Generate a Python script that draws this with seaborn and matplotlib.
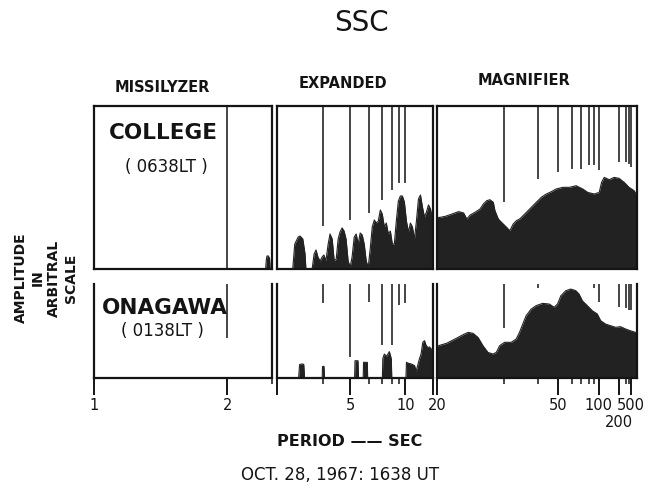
import numpy as np
import pandas as pd
import matplotlib
matplotlib.use("Agg")
import matplotlib.pyplot as plt
from matplotlib.ticker import FixedLocator, FixedFormatter, NullFormatter
import seaborn as sns

# ---------------------------------------------------------------------------
# Period bands (seconds) covered by the three analysers
# ---------------------------------------------------------------------------
bands = ["MISSILYZER", "EXPANDED", "MAGNIFIER"]
band_limits = [(1, 3), (3, 20), (20, 2000)]

major_ticks = [[1, 2], [3, 5, 10, 20], [20, 50, 100, 200, 500]]
major_labels = [["1", "2"], ["", "5", "10", ""], ["20", "50", "100", "", "500"]]
minor_ticks = [[3], [4, 6, 7, 8, 9], [30, 40, 60, 70, 80, 90, 300, 400]]
# period label set on a second line beneath the magnifier scale
low_label_period = 200
low_label_text = "200"

stations = ["COLLEGE", "ONAGAWA"]
local_times = ["( 0638LT )", "( 0138LT )"]

# ---------------------------------------------------------------------------
# Spectral envelopes: period (s) vs amplitude (arbitrary units)
# ---------------------------------------------------------------------------
college_missilyzer_period = [2.80, 2.82, 2.84, 2.88, 2.92, 2.94]
college_missilyzer_amp = [0, 5.5, 8.0, 8.0, 6.5, 0]

college_expanded_period = [
    3.29, 3.33, 3.40, 3.44, 3.50, 3.55, 3.57, 3.72, 3.77, 3.82, 3.87, 3.93,
    3.99, 4.04, 4.10, 4.17, 4.23, 4.30, 4.37, 4.44, 4.51, 4.58, 4.66, 4.74,
    4.82, 4.91, 5.00, 5.09, 5.19, 5.29, 5.39, 5.50, 5.61, 5.73, 5.85, 5.98,
    6.11, 6.25, 6.40, 6.55, 6.71, 6.88, 7.05, 7.24, 7.43, 7.64, 7.86, 8.09,
    8.33, 8.59, 8.87, 9.17, 9.48, 9.82, 10.19, 10.58, 11.00, 11.46, 11.96,
    12.50, 13.10, 13.75, 14.47, 15.28, 16.18, 17.19, 18.33, 18.97, 20.0]
college_expanded_amp = [
    0, 15.3, 19.6, 20.2, 18.4, 9.2, 0, 0, 9.2, 11.7, 7.4, 4.9,
    7.4, 8.6, 4.9, 15.3, 21.5, 18.4, 4.9, 6.1, 18.4, 22.7, 25.2, 23.3,
    18.4, 4.9, 1.2, 7.4, 19.6, 21.5, 15.3, 22.1, 20.9, 15.3, 4.9, 1.2,
    12.3, 25.8, 30.1, 28.2, 29.4, 36.2, 33.7, 25.8, 28.2, 21.5, 23.3, 15.3,
    15.3, 29.4, 41.7, 44.8, 44.8, 41.1, 29.4, 22.7, 28.2, 25.8, 18.4,
    29.4, 42.9, 45.4, 38.0, 31.9, 35.0, 39.3, 36.8, 33.7, 34.0]

college_magnifier_period = [
    20.0, 20.33, 20.85, 21.59, 22.39, 23.03, 23.46, 23.92, 24.64, 25.41,
    25.96, 26.52, 27.11, 27.73, 28.04, 28.71, 29.39, 30.50, 31.27, 32.11,
    32.97, 33.88, 35.35, 36.95, 38.71, 41.35, 43.57, 46.04, 48.80, 53.06,
    58.06, 64.20, 71.78, 78.74, 90.28, 101.5, 108.0, 116.0, 135.3, 162.3,
    202.8, 270.3, 404.9, 806.0, 2000]
college_magnifier_amp = [
    31.5, 31.7, 32.3, 33.7, 35.2, 34.4, 30.7, 33.1, 34.8, 36.8,
    39.9, 41.9, 42.5, 40.9, 35.8, 30.7, 28.6, 25.6, 23.5, 27.6,
    29.7, 30.7, 33.7, 36.8, 39.9, 44.0, 46.0, 47.4, 49.1, 50.1,
    50.1, 51.1, 49.1, 47.0, 46.0, 47.0, 53.2, 56.2, 54.8, 56.2,
    55.6, 53.2, 50.1, 48.1, 45.0]

onagawa_missilyzer_period = []
onagawa_missilyzer_amp = []

onagawa_expanded_period = [
    3.41, 3.43, 3.47, 3.52, 3.54, 3.99, 4.00, 4.04, 4.06, 5.21, 5.23, 5.38,
    5.41, 5.67, 5.69, 5.92, 5.94, 7.06, 7.10, 7.24, 7.46, 7.75, 7.97, 8.02,
    10.1, 10.2, 10.6, 11.2, 12.0, 12.4, 12.9, 13.4, 14.0, 14.6, 15.3, 16.0,
    16.8, 17.8, 18.8, 20.0]
onagawa_expanded_amp = [
    0, 8.2, 8.6, 8.4, 0, 0, 7.0, 7.2, 0, 0, 10.6, 10.6,
    0, 0, 9.6, 9.6, 0, 0, 12.0, 14.7, 13.3, 16.2, 11.7, 0,
    0, 9.6, 9.0, 8.6, 7.6, 4.0, 8.0, 11.7, 15.0, 21.9, 22.9, 20.0,
    18.8, 19.0, 17.8, 17.0]

onagawa_magnifier_period = [
    20.0, 20.13, 21.00, 21.94, 22.97, 23.64, 24.35, 25.10, 25.89, 26.75,
    27.65, 28.31, 28.98, 30.05, 31.61, 32.89, 33.80, 34.75, 35.79, 37.44,
    39.23, 41.91, 45.01, 47.64, 49.57, 51.71, 55.22, 59.24, 63.90, 67.39,
    71.28, 78.13, 86.43, 96.71, 105.3, 120.9, 142.0, 172.1, 217.9, 297.6,
    469.5, 1111, 2000]
onagawa_magnifier_amp = [
    19.5, 19.8, 21.3, 23.9, 26.6, 28.0, 27.4, 24.9, 19.8, 15.7,
    14.7, 15.7, 19.8, 21.9, 21.9, 23.9, 28.0, 33.1, 38.2, 42.3,
    44.4, 45.8, 45.4, 43.4, 45.4, 50.5, 53.6, 54.6, 53.6, 51.5,
    47.4, 44.4, 41.3, 39.3, 35.2, 33.1, 32.1, 31.1, 31.5, 30.1,
    29.0, 28.0, 28.0]

# ---------------------------------------------------------------------------
# Period marker traces hanging from the top of each record:
# marker period (s) and the amplitude level where the trace stops
# ---------------------------------------------------------------------------
college_missilyzer_mark = [2]
college_missilyzer_mark_end = [0]
college_expanded_mark = [4, 5, 6, 7, 8, 9, 10]
college_expanded_mark_end = [26.6, 30.2, 34.4, 42.5, 48.6, 52.8, 52.8]
college_magnifier_mark = [30, 40, 50, 60, 70, 80, 90, 100, 200, 300, 400, 500]
college_magnifier_mark_end = [41.1, 55.0, 59.5, 61.2, 61.2, 63.6, 63.6, 60.6,
                              65.6, 65.6, 64.6, 62.6]

onagawa_missilyzer_mark = [2]
onagawa_missilyzer_mark_end = [24.5]
onagawa_expanded_mark = [4, 5, 6, 7, 8, 9, 10]
onagawa_expanded_mark_end = [46.0, 12.9, 46.6, 20.2, 20.2, 44.8, 46.0]
onagawa_magnifier_mark = [30, 40, 90, 100, 200, 300, 400, 500]
onagawa_magnifier_mark_end = [30.5, 55.2, 55.2, 46.8, 43.7, 42.8, 42.0, 41.7]

# Full-scale amplitude of each row (same arbitrary unit in both rows)
row_amp_max = [100.0, 57.7]

envelopes = [
    [(college_missilyzer_period, college_missilyzer_amp),
     (college_expanded_period, college_expanded_amp),
     (college_magnifier_period, college_magnifier_amp)],
    [(onagawa_missilyzer_period, onagawa_missilyzer_amp),
     (onagawa_expanded_period, onagawa_expanded_amp),
     (onagawa_magnifier_period, onagawa_magnifier_amp)],
]
markers = [
    [(college_missilyzer_mark, college_missilyzer_mark_end),
     (college_expanded_mark, college_expanded_mark_end),
     (college_magnifier_mark, college_magnifier_mark_end)],
    [(onagawa_missilyzer_mark, onagawa_missilyzer_mark_end),
     (onagawa_expanded_mark, onagawa_expanded_mark_end),
     (onagawa_magnifier_mark, onagawa_magnifier_mark_end)],
]

# ---------------------------------------------------------------------------
# Drawing
# ---------------------------------------------------------------------------
sns.set_theme(style="white")
plt.rcParams["font.family"] = ["DejaVu Sans"]

INK = "#141414"
FILL = "#222222"
W, H = 652, 488

fig = plt.figure(figsize=(W / 100, H / 100), dpi=100)
fig.patch.set_facecolor("white")


def frac(x, y):
    return x / W, 1 - y / H


def inv_period(p):
    # each analyser is linear in frequency, so the axis runs in 1/period
    with np.errstate(divide="ignore", invalid="ignore"):
        return -1.0 / np.asarray(p, dtype=float)


col_px = [(94, 272), (276.5, 433), (437, 637)]
row_px = [(106, 269), (284, 378)]

for r in range(2):
    for c in range(3):
        x0, x1 = col_px[c]
        y0, y1 = row_px[r]
        ax = fig.add_axes([x0 / W, 1 - y1 / H, (x1 - x0) / W, (y1 - y0) / H])
        ax.set_facecolor("white")
        ax.set_xscale("function", functions=(inv_period, inv_period))
        ax.set_xlim(*band_limits[c])
        ax.set_ylim(0, row_amp_max[r])

        per, amp = envelopes[r][c]
        if per:
            df = pd.DataFrame({"period": per, "amplitude": amp})
            ax.fill_between(df["period"], df["amplitude"], 0,
                            color=FILL, lw=0, zorder=2)
            sns.lineplot(data=df, x="period", y="amplitude", ax=ax,
                         color=FILL, lw=0.8, sort=False, estimator=None,
                         zorder=3)

        mp, me = markers[r][c]
        if mp:
            ax.vlines(mp, me, row_amp_max[r], color=INK, lw=1.1, zorder=4)

        ax.set_xlabel("")
        ax.set_ylabel("")
        ax.set_yticks([])
        for s in ax.spines.values():
            s.set_color(INK)
            s.set_linewidth(1.6)

        if r == 0:
            ax.tick_params(axis="x", which="both", bottom=False,
                           labelbottom=False)
        else:
            ax.spines["top"].set_visible(False)
            ax.xaxis.set_major_locator(FixedLocator(major_ticks[c]))
            ax.xaxis.set_major_formatter(FixedFormatter(major_labels[c]))
            ax.xaxis.set_minor_locator(FixedLocator(minor_ticks[c]))
            ax.xaxis.set_minor_formatter(NullFormatter())
            ax.tick_params(axis="x", which="major", bottom=True,
                           direction="out", length=12.5, width=1.4,
                           color=INK, labelsize=10.5, labelcolor=INK, pad=2)
            ax.tick_params(axis="x", which="minor", bottom=True,
                           direction="out", length=4.5, width=1.1, color=INK)
            if low_label_period in major_ticks[c]:
                ax.text(low_label_period, -0.475, low_label_text,
                        transform=ax.get_xaxis_transform(), ha="center",
                        va="center", fontsize=10.5, color=INK)

# ---------------------------------------------------------------------------
# Lettering
# ---------------------------------------------------------------------------
fig.text(*frac(361, 23), "SSC", ha="center", va="center",
         fontsize=20, color=INK)

header_pos = [(162, 87.5), (343, 84), (524, 81)]
for name, (hx, hy) in zip(bands, header_pos):
    fig.text(*frac(hx, hy), name, ha="center", va="center",
             fontsize=10.5, fontweight="bold", color=INK)

station_pos = [(163, 133), (165, 308)]
time_pos = [(166, 166.5), (162, 331.5)]
for st, lt, sp, tp in zip(stations, local_times, station_pos, time_pos):
    fig.text(*frac(*sp), st, ha="center", va="center",
             fontsize=15.5, fontweight="bold", color=INK)
    fig.text(*frac(*tp), lt, ha="center", va="center",
             fontsize=12, color=INK)

fig.text(*frac(46, 278), "AMPLITUDE\nIN\nARBITRAL\nSCALE", ha="center",
         va="center", rotation=90, fontsize=10, fontweight="bold",
         linespacing=1.25, color=INK)

fig.text(*frac(350, 441.5), "PERIOD —— SEC", ha="center", va="center",
         fontsize=11.5, fontweight="bold", color=INK)
fig.text(*frac(340, 475.5), "OCT. 28, 1967: 1638 UT", ha="center",
         va="center", fontsize=12, color=INK)

fig.savefig("out.png", dpi=100, facecolor="white")
